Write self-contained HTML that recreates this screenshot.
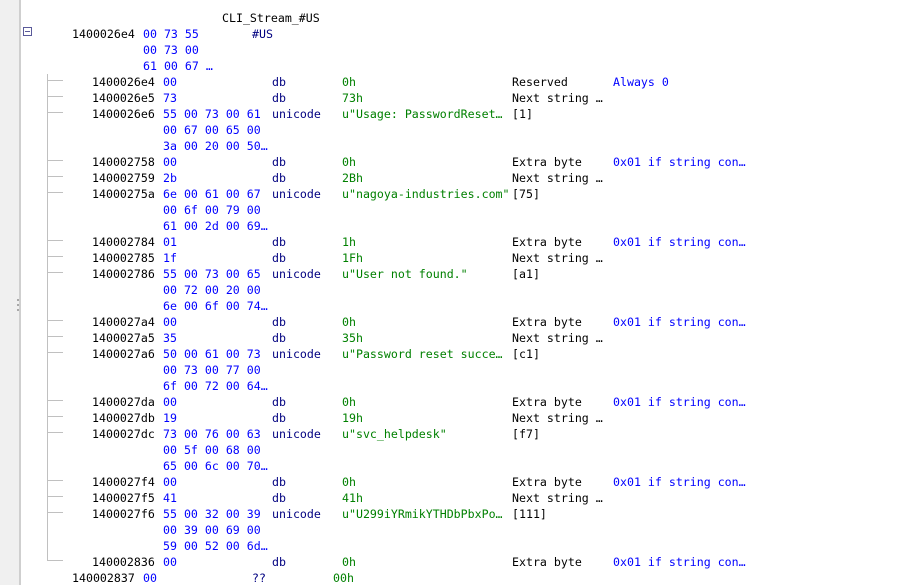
<!DOCTYPE html>
<html>
<head>
<meta charset="utf-8">
<style>
html,body{margin:0;padding:0;background:#fff;}
#w{position:relative;width:902px;height:585px;overflow:hidden;background:#fff;
font-family:"DejaVu Sans Mono","Liberation Mono",monospace;font-size:11.6px;}
#w div.t{position:absolute;white-space:pre;line-height:16px;height:16px;}
.a{color:#000;}
.b{color:#0000ff;}
.m{color:#000080;}
.o{color:#008000;}
.c{color:#000;}
.e{color:#0000ff;}
</style>
</head>
<body>
<div id="w">
<div style="position:absolute;left:0;top:0;width:19px;height:585px;background:#f0f0f0;"></div>
<div style="position:absolute;left:19px;top:0;width:2px;height:585px;background:#cfcfcf;"></div>
<div style="position:absolute;left:17px;top:299px;width:2px;height:2px;background:#a8a8a8;"></div>
<div style="position:absolute;left:17px;top:304px;width:2px;height:2px;background:#a8a8a8;"></div>
<div style="position:absolute;left:17px;top:309px;width:2px;height:2px;background:#a8a8a8;"></div>
<svg width="902" height="585" style="position:absolute;left:0;top:0;">
<rect x="23.5" y="27.5" width="8" height="8" fill="#fff" stroke="#5a5a9a" stroke-width="1"/>
<line x1="25" y1="31.5" x2="30" y2="31.5" stroke="#5a5a9a" stroke-width="1"/>
<g stroke="#c0c0c0" stroke-width="1">
<line x1="47.5" y1="74" x2="47.5" y2="561"/>
<line x1="47" y1="80.5" x2="63" y2="80.5"/>
<line x1="47" y1="96.5" x2="63" y2="96.5"/>
<line x1="47" y1="112.5" x2="63" y2="112.5"/>
<line x1="47" y1="160.5" x2="63" y2="160.5"/>
<line x1="47" y1="176.5" x2="63" y2="176.5"/>
<line x1="47" y1="192.5" x2="63" y2="192.5"/>
<line x1="47" y1="240.5" x2="63" y2="240.5"/>
<line x1="47" y1="256.5" x2="63" y2="256.5"/>
<line x1="47" y1="272.5" x2="63" y2="272.5"/>
<line x1="47" y1="320.5" x2="63" y2="320.5"/>
<line x1="47" y1="336.5" x2="63" y2="336.5"/>
<line x1="47" y1="352.5" x2="63" y2="352.5"/>
<line x1="47" y1="400.5" x2="63" y2="400.5"/>
<line x1="47" y1="416.5" x2="63" y2="416.5"/>
<line x1="47" y1="432.5" x2="63" y2="432.5"/>
<line x1="47" y1="480.5" x2="63" y2="480.5"/>
<line x1="47" y1="496.5" x2="63" y2="496.5"/>
<line x1="47" y1="512.5" x2="63" y2="512.5"/>
<line x1="47" y1="560.5" x2="63" y2="560.5"/>
</g>
</svg>

<!-- row 0 -->
<div class="t a" style="left:222px;top:10px;">CLI_Stream_#US</div>
<!-- row 1-3 -->
<div class="t a" style="left:72px;top:26px;">1400026e4</div>
<div class="t b" style="left:143px;top:26px;">00 73 55</div>
<div class="t m" style="left:252px;top:26px;">#US</div>
<div class="t b" style="left:143px;top:42px;">00 73 00</div>
<div class="t b" style="left:143px;top:58px;">61 00 67 …</div>

<!-- row 4 -->
<div class="t a" style="left:92px;top:74px;">1400026e4</div>
<div class="t b" style="left:163px;top:74px;">00</div>
<div class="t m" style="left:272px;top:74px;">db</div>
<div class="t o" style="left:342px;top:74px;">0h</div>
<div class="t c" style="left:512px;top:74px;">Reserved</div>
<div class="t e" style="left:613px;top:74px;">Always 0</div>
<!-- row 5 -->
<div class="t a" style="left:92px;top:90px;">1400026e5</div>
<div class="t b" style="left:163px;top:90px;">73</div>
<div class="t m" style="left:272px;top:90px;">db</div>
<div class="t o" style="left:342px;top:90px;">73h</div>
<div class="t c" style="left:512px;top:90px;">Next string …</div>
<!-- row 6-8 -->
<div class="t a" style="left:92px;top:106px;">1400026e6</div>
<div class="t b" style="left:163px;top:106px;">55 00 73 00 61</div>
<div class="t m" style="left:272px;top:106px;">unicode</div>
<div class="t o" style="left:342px;top:106px;">u"Usage: PasswordReset…</div>
<div class="t c" style="left:512px;top:106px;">[1]</div>
<div class="t b" style="left:163px;top:122px;">00 67 00 65 00</div>
<div class="t b" style="left:163px;top:138px;">3a 00 20 00 50…</div>

<!-- row 9 -->
<div class="t a" style="left:92px;top:154px;">140002758</div>
<div class="t b" style="left:163px;top:154px;">00</div>
<div class="t m" style="left:272px;top:154px;">db</div>
<div class="t o" style="left:342px;top:154px;">0h</div>
<div class="t c" style="left:512px;top:154px;">Extra byte</div>
<div class="t e" style="left:613px;top:154px;">0x01 if string con…</div>
<!-- row 10 -->
<div class="t a" style="left:92px;top:170px;">140002759</div>
<div class="t b" style="left:163px;top:170px;">2b</div>
<div class="t m" style="left:272px;top:170px;">db</div>
<div class="t o" style="left:342px;top:170px;">2Bh</div>
<div class="t c" style="left:512px;top:170px;">Next string …</div>
<!-- row 11-13 -->
<div class="t a" style="left:92px;top:186px;">14000275a</div>
<div class="t b" style="left:163px;top:186px;">6e 00 61 00 67</div>
<div class="t m" style="left:272px;top:186px;">unicode</div>
<div class="t o" style="left:342px;top:186px;">u"nagoya-industries.com"</div>
<div class="t c" style="left:512px;top:186px;">[75]</div>
<div class="t b" style="left:163px;top:202px;">00 6f 00 79 00</div>
<div class="t b" style="left:163px;top:218px;">61 00 2d 00 69…</div>

<!-- row 14 -->
<div class="t a" style="left:92px;top:234px;">140002784</div>
<div class="t b" style="left:163px;top:234px;">01</div>
<div class="t m" style="left:272px;top:234px;">db</div>
<div class="t o" style="left:342px;top:234px;">1h</div>
<div class="t c" style="left:512px;top:234px;">Extra byte</div>
<div class="t e" style="left:613px;top:234px;">0x01 if string con…</div>
<!-- row 15 -->
<div class="t a" style="left:92px;top:250px;">140002785</div>
<div class="t b" style="left:163px;top:250px;">1f</div>
<div class="t m" style="left:272px;top:250px;">db</div>
<div class="t o" style="left:342px;top:250px;">1Fh</div>
<div class="t c" style="left:512px;top:250px;">Next string …</div>
<!-- row 16-18 -->
<div class="t a" style="left:92px;top:266px;">140002786</div>
<div class="t b" style="left:163px;top:266px;">55 00 73 00 65</div>
<div class="t m" style="left:272px;top:266px;">unicode</div>
<div class="t o" style="left:342px;top:266px;">u"User not found."</div>
<div class="t c" style="left:512px;top:266px;">[a1]</div>
<div class="t b" style="left:163px;top:282px;">00 72 00 20 00</div>
<div class="t b" style="left:163px;top:298px;">6e 00 6f 00 74…</div>

<!-- row 19 -->
<div class="t a" style="left:92px;top:314px;">1400027a4</div>
<div class="t b" style="left:163px;top:314px;">00</div>
<div class="t m" style="left:272px;top:314px;">db</div>
<div class="t o" style="left:342px;top:314px;">0h</div>
<div class="t c" style="left:512px;top:314px;">Extra byte</div>
<div class="t e" style="left:613px;top:314px;">0x01 if string con…</div>
<!-- row 20 -->
<div class="t a" style="left:92px;top:330px;">1400027a5</div>
<div class="t b" style="left:163px;top:330px;">35</div>
<div class="t m" style="left:272px;top:330px;">db</div>
<div class="t o" style="left:342px;top:330px;">35h</div>
<div class="t c" style="left:512px;top:330px;">Next string …</div>
<!-- row 21-23 -->
<div class="t a" style="left:92px;top:346px;">1400027a6</div>
<div class="t b" style="left:163px;top:346px;">50 00 61 00 73</div>
<div class="t m" style="left:272px;top:346px;">unicode</div>
<div class="t o" style="left:342px;top:346px;">u"Password reset succe…</div>
<div class="t c" style="left:512px;top:346px;">[c1]</div>
<div class="t b" style="left:163px;top:362px;">00 73 00 77 00</div>
<div class="t b" style="left:163px;top:378px;">6f 00 72 00 64…</div>

<!-- row 24 -->
<div class="t a" style="left:92px;top:394px;">1400027da</div>
<div class="t b" style="left:163px;top:394px;">00</div>
<div class="t m" style="left:272px;top:394px;">db</div>
<div class="t o" style="left:342px;top:394px;">0h</div>
<div class="t c" style="left:512px;top:394px;">Extra byte</div>
<div class="t e" style="left:613px;top:394px;">0x01 if string con…</div>
<!-- row 25 -->
<div class="t a" style="left:92px;top:410px;">1400027db</div>
<div class="t b" style="left:163px;top:410px;">19</div>
<div class="t m" style="left:272px;top:410px;">db</div>
<div class="t o" style="left:342px;top:410px;">19h</div>
<div class="t c" style="left:512px;top:410px;">Next string …</div>
<!-- row 26-28 -->
<div class="t a" style="left:92px;top:426px;">1400027dc</div>
<div class="t b" style="left:163px;top:426px;">73 00 76 00 63</div>
<div class="t m" style="left:272px;top:426px;">unicode</div>
<div class="t o" style="left:342px;top:426px;">u"svc_helpdesk"</div>
<div class="t c" style="left:512px;top:426px;">[f7]</div>
<div class="t b" style="left:163px;top:442px;">00 5f 00 68 00</div>
<div class="t b" style="left:163px;top:458px;">65 00 6c 00 70…</div>

<!-- row 29 -->
<div class="t a" style="left:92px;top:474px;">1400027f4</div>
<div class="t b" style="left:163px;top:474px;">00</div>
<div class="t m" style="left:272px;top:474px;">db</div>
<div class="t o" style="left:342px;top:474px;">0h</div>
<div class="t c" style="left:512px;top:474px;">Extra byte</div>
<div class="t e" style="left:613px;top:474px;">0x01 if string con…</div>
<!-- row 30 -->
<div class="t a" style="left:92px;top:490px;">1400027f5</div>
<div class="t b" style="left:163px;top:490px;">41</div>
<div class="t m" style="left:272px;top:490px;">db</div>
<div class="t o" style="left:342px;top:490px;">41h</div>
<div class="t c" style="left:512px;top:490px;">Next string …</div>
<!-- row 31-33 -->
<div class="t a" style="left:92px;top:506px;">1400027f6</div>
<div class="t b" style="left:163px;top:506px;">55 00 32 00 39</div>
<div class="t m" style="left:272px;top:506px;">unicode</div>
<div class="t o" style="left:342px;top:506px;">u"U299iYRmikYTHDbPbxPo…</div>
<div class="t c" style="left:512px;top:506px;">[111]</div>
<div class="t b" style="left:163px;top:522px;">00 39 00 69 00</div>
<div class="t b" style="left:163px;top:538px;">59 00 52 00 6d…</div>

<!-- row 34 -->
<div class="t a" style="left:92px;top:554px;">140002836</div>
<div class="t b" style="left:163px;top:554px;">00</div>
<div class="t m" style="left:272px;top:554px;">db</div>
<div class="t o" style="left:342px;top:554px;">0h</div>
<div class="t c" style="left:512px;top:554px;">Extra byte</div>
<div class="t e" style="left:613px;top:554px;">0x01 if string con…</div>
<!-- row 35 -->
<div class="t a" style="left:72px;top:570px;">140002837</div>
<div class="t b" style="left:143px;top:570px;">00</div>
<div class="t m" style="left:252px;top:570px;">??</div>
<div class="t o" style="left:333px;top:570px;">00h</div>
</div>
</body>
</html>
